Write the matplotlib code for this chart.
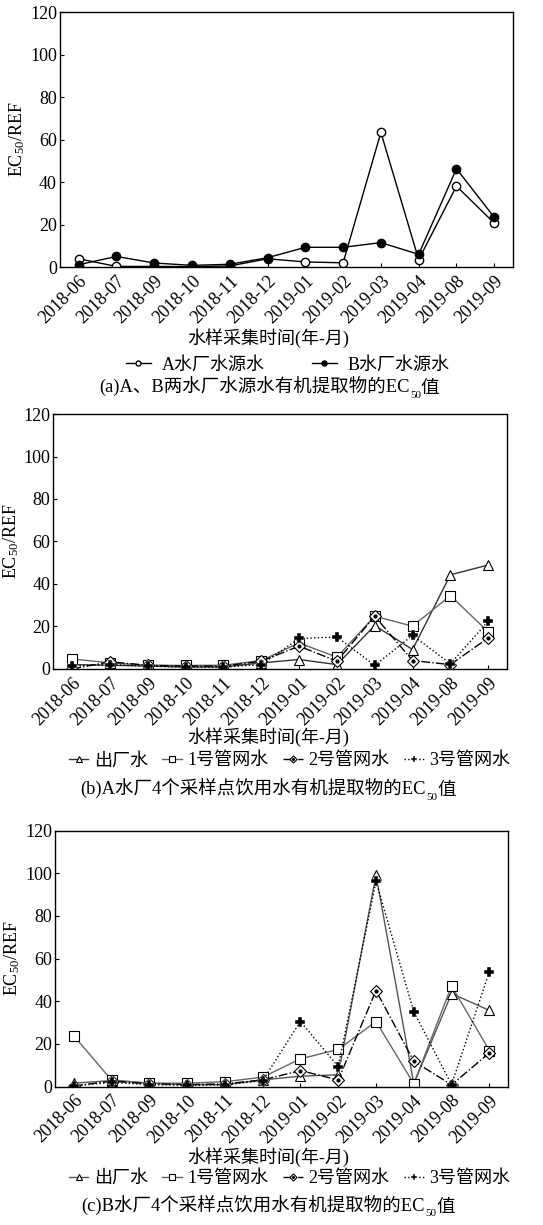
import matplotlib
matplotlib.use("Agg")
import matplotlib.pyplot as plt
import numpy as np

plt.rcParams['font.family'] = ['Liberation Serif', 'Noto Sans CJK SC']
plt.rcParams['mathtext.default'] = 'regular'

months = ['2018-06', '2018-07', '2018-09', '2018-10', '2018-11', '2018-12',
          '2019-01', '2019-02', '2019-03', '2019-04', '2019-08', '2019-09']

# (a) source water
a_src = [3.9, 0.3, 0.3, 0.2, 0.5, 3.9, 2.4, 2.0, 63.4, 3.5, 38.1, 20.7]
b_src = [1.1, 5.0, 1.9, 0.8, 1.3, 4.4, 9.3, 9.3, 11.5, 6.0, 46.3, 23.4]

# (b) plant A
a_out = [2.0, 1.7, 1.3, 0.9, 0.9, 2.8, 4.4, 2.0, 20.4, 9.1, 44.3, 48.9]
a_p1 = [4.7, 2.8, 1.7, 1.6, 1.7, 3.9, 12.2, 5.5, 24.8, 20.1, 34.5, 17.4]
a_p2 = [0.0, 3.3, 1.7, 1.3, 1.3, 3.6, 10.7, 3.6, 24.8, 3.9, 2.0, 14.6]
a_p3 = [1.3, 2.0, 1.3, 0.8, 0.8, 2.0, 14.3, 15.0, 1.6, 15.8, 2.4, 22.4]

# (c) plant B
b_out = [1.6, 2.8, 1.6, 0.9, 0.9, 3.1, 4.9, 5.5, 99.2, 1.3, 43.6, 35.7]
b_p1 = [23.8, 3.1, 1.6, 1.6, 2.3, 4.4, 13.0, 17.4, 30.5, 1.3, 47.2, 16.9]
b_p2 = [0.3, 2.5, 1.3, 0.9, 1.3, 3.1, 7.5, 3.1, 45.0, 11.9, 0.8, 15.8]
b_p3 = [0.3, 2.0, 0.9, 0.6, 0.8, 2.8, 30.5, 9.4, 96.3, 35.1, 0.9, 53.9]

legend_a = ['A水厂水源水', 'B水厂水源水']
legend_bc = ['出厂水', '1号管网水', '2号管网水', '3号管网水']
xlabel = '水样采集时间(年-月)'
ylabel = 'EC$_{50}$/REF'
captions = [('(a)A、B两水厂水源水有机提取物的EC', '50', '值'),
            ('(b)A水厂4个采样点饮用水有机提取物的EC', '50', '值'),
            ('(c)B水厂4个采样点饮用水有机提取物的EC', '50', '值')]

x = np.arange(len(months))

fig = plt.figure(figsize=(5.43, 12.25), dpi=100)
renderer = fig.canvas.get_renderer()


def setup(ax):
    ax.set_xlim(-0.5, 11.5)
    ax.set_ylim(0, 120)
    ax.set_yticks(range(0, 121, 20))
    ax.set_xticks(x)
    ax.set_xticklabels(months, rotation=45, ha='right', rotation_mode='anchor', fontsize=11.5)
    ax.tick_params(direction='in', length=3, labelsize=13, pad=2)
    ax.tick_params(axis='x', pad=4)
    ax.set_ylabel(ylabel, fontsize=13, labelpad=2)
    for s in ax.spines.values():
        s.set_linewidth(1.0)


def caption(xc, y, parts, fs=13.3):
    # draw "pre" + subscript + "post" centred at xc (figure fraction)
    pre, sub, post = parts
    t1 = fig.text(0, y, pre, fontsize=fs, va='baseline')
    t2 = fig.text(0, y - 0.004, sub, fontsize=fs * 0.6, va='baseline')
    t3 = fig.text(0, y, post, fontsize=fs, va='baseline')
    W = fig.bbox.width
    w1 = t1.get_window_extent(renderer).width / W
    w2 = t2.get_window_extent(renderer).width / W
    w3 = t3.get_window_extent(renderer).width / W
    x0 = xc - (w1 + w2 + w3) / 2
    t1.set_x(x0)
    t2.set_x(x0 + w1)
    t3.set_x(x0 + w1 + w2)


# panel a
ax1 = fig.add_axes([0.110, 0.782, 0.835, 0.208])
setup(ax1)
h1, = ax1.plot(x, a_src, color='black', lw=1.0, marker='o', ms=6, mfc='white', mec='black', mew=1.0)
h2, = ax1.plot(x, b_src, color='black', lw=1.0, marker='o', ms=6, mfc='black', mec='black')
fig.text(0.494, 0.724, xlabel, ha='center', va='center', fontsize=13)
fig.legend([h1, h2], legend_a, loc='center', bbox_to_anchor=(0.53, 0.702), ncol=2,
           frameon=False, fontsize=13, handlelength=1.4, columnspacing=2.6,
           handletextpad=0.6, markerscale=0.6, borderpad=0.1)
caption(0.496, 0.679, captions[0])


def plot4(ax, out, p1, p2, p3, out_color):
    ho, = ax.plot(x, out, color=out_color, lw=1.0, marker='^', ms=7, mfc='white', mec='black', mew=0.8)
    hp1, = ax.plot(x, p1, color='#666666', lw=1.0, marker='s', ms=7, mfc='white', mec='black', mew=0.8)
    hp2, = ax.plot(x, p2, color='black', lw=1.0, ls='-.', marker='D', ms=6, mfc='white', mec='black', mew=0.8)
    hd, = ax.plot(x, p2, ls='none', marker='o', ms=2, color='black')
    hp3, = ax.plot(x, p3, color='black', lw=1.0, ls=':', marker='P', ms=7, mfc='black', mec='white', mew=0.3)
    return [ho, hp1, (hp2, hd), hp3]


leg_kw = dict(loc='center', ncol=4, frameon=False, fontsize=13, handlelength=1.1,
              columnspacing=0.8, handletextpad=0.3, markerscale=0.6, borderpad=0.1)

# panel b
ax2 = fig.add_axes([0.098, 0.454, 0.836, 0.208])
setup(ax2)
hs = plot4(ax2, a_out, a_p1, a_p2, a_p3, '#333333')
fig.text(0.494, 0.398, xlabel, ha='center', va='center', fontsize=13)
fig.legend(hs, legend_bc, bbox_to_anchor=(0.533, 0.379), **leg_kw)
caption(0.494, 0.351, captions[1])

# panel c
ax3 = fig.add_axes([0.101, 0.113, 0.835, 0.209])
setup(ax3)
hs = plot4(ax3, b_out, b_p1, b_p2, b_p3, '#555555')
fig.text(0.494, 0.055, xlabel, ha='center', va='center', fontsize=13)
fig.legend(hs, legend_bc, bbox_to_anchor=(0.533, 0.038), **leg_kw)
caption(0.494, 0.011, captions[2])

fig.savefig('out.png', dpi=100)
